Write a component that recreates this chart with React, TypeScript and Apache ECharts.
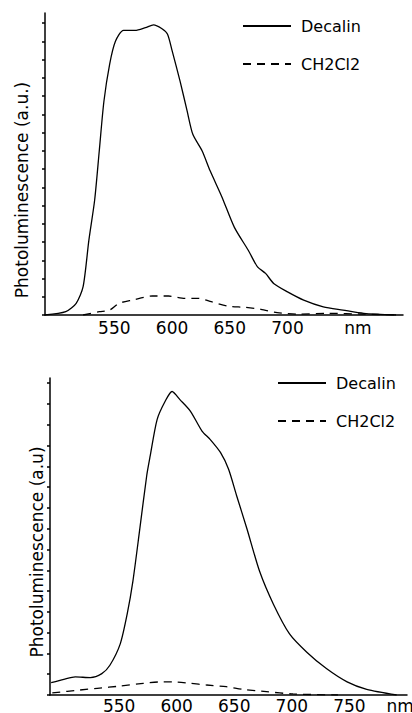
import React, { useEffect, useRef } from "react";
import * as echarts from "echarts";

const FONT = "DejaVu Sans";

// Top panel (a.u.)
const topDecalinNm = [490, 508, 517, 523, 528, 533, 537, 541, 546, 551, 558, 568, 577, 584, 591, 596, 600, 607, 613, 618, 626, 633, 643, 654, 666, 674, 681, 688, 700, 714, 731, 748, 766, 794];
const topDecalinPL = [0, 0.18, 0.64, 1.55, 4.1, 6.3, 9.0, 11.7, 13.75, 15.0, 15.6, 15.6, 15.75, 15.9, 15.7, 15.4, 14.5, 12.8, 11.2, 9.9, 9.0, 7.9, 6.5, 4.8, 3.55, 2.64, 2.28, 1.73, 1.27, 0.82, 0.45, 0.27, 0.09, 0.0];
const topCH2Cl2Nm = [523, 537, 546, 554, 566, 583, 597, 611, 623, 634, 648, 663, 677, 691, 708, 736, 765, 794];
const topCH2Cl2PL = [0, 0.18, 0.27, 0.64, 0.82, 1.04, 1.04, 0.91, 0.91, 0.73, 0.49, 0.42, 0.31, 0.13, 0.05, 0.09, 0.05, 0];

// Bottom panel (a.u)
const botDecalinNm = [491, 502, 512, 525, 535, 542, 551, 557, 562, 568, 574, 577, 583, 590, 596, 603, 612, 622, 629, 638, 645, 652, 661, 672, 684, 698, 713, 730, 748, 765, 791];
const botDecalinPL = [0.59, 0.75, 0.87, 0.84, 1.03, 1.43, 2.46, 3.89, 5.48, 8.0, 10.56, 11.5, 13.25, 14.13, 14.6, 14.2, 13.65, 12.7, 12.3, 11.67, 10.87, 9.6, 8.0, 5.95, 4.37, 2.94, 2.06, 1.27, 0.63, 0.27, 0];
const botCH2Cl2Nm = [492, 516, 531, 551, 571, 586, 597, 612, 626, 643, 658, 678, 701, 740];
const botCH2Cl2PL = [0.1, 0.24, 0.32, 0.43, 0.56, 0.63, 0.63, 0.56, 0.48, 0.4, 0.27, 0.16, 0.05, 0];

// Tick labels
const topXLabels = [550, 600, 650, 700];
const topUnitPos = 761;
const botXLabels = [550, 600, 650, 700, 750];
const botUnitPos = 794;
const topYTicks = [0, 1, 2, 3, 4, 5, 6, 7, 8, 9, 10, 11, 12, 13, 14, 15, 16];
const botYTicks = [0, 1, 2, 3, 4, 5, 6, 7, 8, 9, 10, 11, 12, 13, 14, 15];
const legendNames = ["Decalin", "CH2Cl2"];

const zip = (xs: number[], ys: number[]) => xs.map((x, i) => [x, ys[i]]);

const axisLineStyle = { color: "#000", width: 1.5 };

function xAxisFor(gridIndex: number, labels: number[], unitPos: number, margin: number) {
  return {
    gridIndex,
    type: "value",
    min: 490,
    max: 800,
    axisLine: { show: true, lineStyle: axisLineStyle },
    axisTick: { show: false },
    splitLine: { show: false },
    axisLabel: {
      customValues: [...labels, unitPos],
      formatter: (v: number) => (v === unitPos ? "nm" : String(v)),
      color: "#000",
      fontSize: 17,
      fontFamily: FONT,
      margin,
      showMinLabel: true,
      showMaxLabel: true,
    },
  };
}

function yAxisFor(gridIndex: number, max: number, ticks: number[], name: string, gap: number, shift: number) {
  return {
    gridIndex,
    type: "value",
    min: 0,
    max,
    axisLine: { show: true, lineStyle: axisLineStyle },
    axisTick: { show: true, inside: false, length: 3, customValues: ticks, lineStyle: { color: "#000", width: 1.5 } },
    axisLabel: { show: false },
    splitLine: { show: false },
    name,
    nameLocation: "middle",
    nameGap: gap,
    nameRotate: 90,
    nameTextStyle: { color: "#000", fontSize: 17, fontFamily: FONT, padding: [0, shift, 0, 0] },
  };
}

function lineSeries(name: string, xi: number, data: number[][], dashed: boolean) {
  return {
    name,
    type: "line",
    xAxisIndex: xi,
    yAxisIndex: xi,
    data,
    smooth: 0.25,
    symbol: "none",
    showSymbol: false,
    itemStyle: { color: "#000" },
    lineStyle: { color: "#000", width: 1.3, type: dashed ? [8, 6] : "solid" },
  };
}

function legendAt(left: number, top: number) {
  return {
    data: legendNames,
    left,
    top,
    padding: 0,
    orient: "vertical",
    itemWidth: 48,
    itemHeight: 16,
    itemGap: 22,
    selectedMode: false,
    itemStyle: { color: "transparent", borderColor: "transparent", borderWidth: 0, opacity: 0 },
    textStyle: { fontSize: 16, fontFamily: FONT, color: "#000", padding: [0, 0, 0, 5] },
  };
}

export default function App() {
  const ref = useRef<HTMLDivElement>(null);
  useEffect(() => {
    const chart = echarts.init(ref.current!, null, { renderer: "svg" });
    chart.setOption({
      animation: false,
      backgroundColor: "#fff",
      grid: [
        { left: 45, top: 13, width: 358, height: 302, outerBoundsMode: "none" },
        { left: 50, top: 378, width: 357, height: 317, outerBoundsMode: "none" },
      ],
      xAxis: [xAxisFor(0, topXLabels, topUnitPos, 4), xAxisFor(1, botXLabels, botUnitPos, 2)],
      yAxis: [
        yAxisFor(0, 16.55, topYTicks, "Photoluminescence (a.u.)", 15, 52),
        yAxisFor(1, 15.25, botYTicks, "Photoluminescence (a.u)", 5, 31),
      ],
      legend: [legendAt(242, 18), legendAt(277, 375)],
      series: [
        lineSeries("Decalin", 0, zip(topDecalinNm, topDecalinPL), false),
        lineSeries("CH2Cl2", 0, zip(topCH2Cl2Nm, topCH2Cl2PL), true),
        lineSeries("Decalin", 1, zip(botDecalinNm, botDecalinPL), false),
        lineSeries("CH2Cl2", 1, zip(botCH2Cl2Nm, botCH2Cl2PL), true),
      ],
    });
    return () => chart.dispose();
  }, []);
  return (
    <div
      ref={ref}
      style={{ position: "fixed", left: 0, top: 0, width: 412, height: 713, background: "#fff" }}
    />
  );
}
